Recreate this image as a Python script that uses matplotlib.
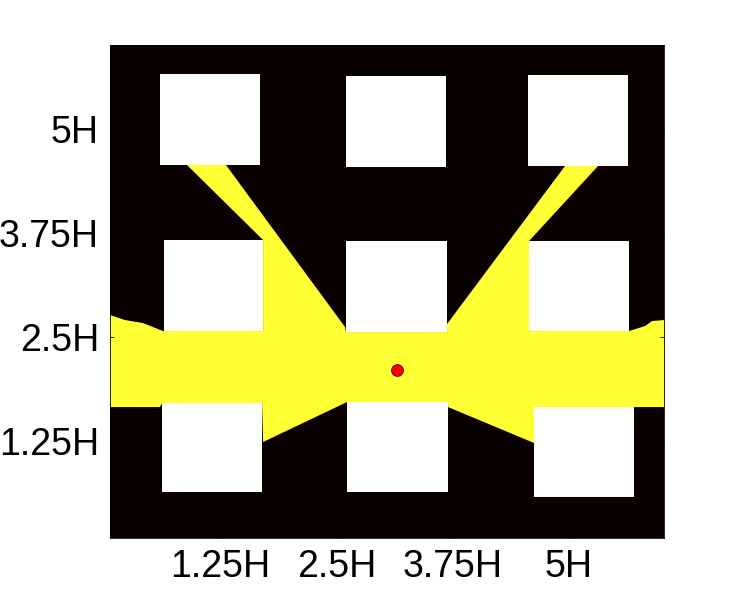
import matplotlib
matplotlib.use("Agg")
import matplotlib.pyplot as plt
from matplotlib.patches import Rectangle

plt.rcParams["font.family"] = ["Liberation Sans", "DejaVu Sans"]

# building footprints (x0, x1, y0, y1) in units of H
bld_x0 = [0.605, 2.604, 4.561, 0.648, 2.604, 4.571, 0.627, 2.615, 4.625]
bld_x1 = [1.680, 3.679, 5.635, 1.713, 3.690, 5.646, 1.702, 3.701, 5.700]
bld_y0 = [4.565, 4.541, 4.553, 2.573, 2.561, 2.573, 0.642, 0.642, 0.582]
bld_y1 = [5.656, 5.632, 5.644, 3.665, 3.653, 3.653, 1.709, 1.721, 1.661]

# visible area outline (H units)
vis_x = [0.068, 0.229, 0.422, 0.637, 1.713, 1.713, 0.895, 1.314, 2.594, 2.604,
         3.690, 3.690, 4.958, 5.313, 4.571, 4.571, 5.646, 5.818, 5.893, 6.022,
         6.022, 4.625, 4.625, 3.701, 3.701, 2.615, 1.713, 1.702, 0.627, 0.605,
         0.068]
vis_y = [2.765, 2.705, 2.669, 2.573, 2.573, 3.665, 4.565, 4.565, 2.621, 2.561,
         2.561, 2.657, 4.553, 4.553, 3.653, 2.573, 2.573, 2.633, 2.693, 2.705,
         1.661, 1.661, 1.230, 1.661, 1.721, 1.721, 1.242, 1.709, 1.709, 1.661,
         1.661]

# observer position
obs_x = [3.152]
obs_y = [2.105]

ticks = [1.25, 2.5, 3.75, 5]
tick_labels = ["1.25H", "2.5H", "3.75H", "5H"]

fig = plt.figure(figsize=(7.33, 6.03), dpi=100)
ax = fig.add_axes([0.1501, 0.1086, 0.7558, 0.8167])
ax.set_facecolor("#0b0000")

ax.fill(vis_x, vis_y, color="#ffff33", linewidth=0, zorder=1)

for x0, x1, y0, y1 in zip(bld_x0, bld_x1, bld_y0, bld_y1):
    ax.add_patch(Rectangle((x0, y0), x1 - x0, y1 - y0, facecolor="white",
                           edgecolor="none", zorder=2))

ax.plot(obs_x, obs_y, "o", color="red", markeredgecolor="#400000",
        markersize=8.5, markeredgewidth=0.6, zorder=3)

ax.set_xlim(0.068, 6.022)
ax.set_ylim(0.096, 6.004)
ax.set_xticks(ticks)
ax.set_xticklabels(tick_labels)
ax.set_yticks(ticks)
ax.set_yticklabels(tick_labels)
ax.tick_params(direction="in", length=3, width=0.6, labelsize=27,
               top=True, right=True, pad=8, colors="black")
for sp in ax.spines.values():
    sp.set_linewidth(0.6)

plt.savefig("out.png", dpi=100)
